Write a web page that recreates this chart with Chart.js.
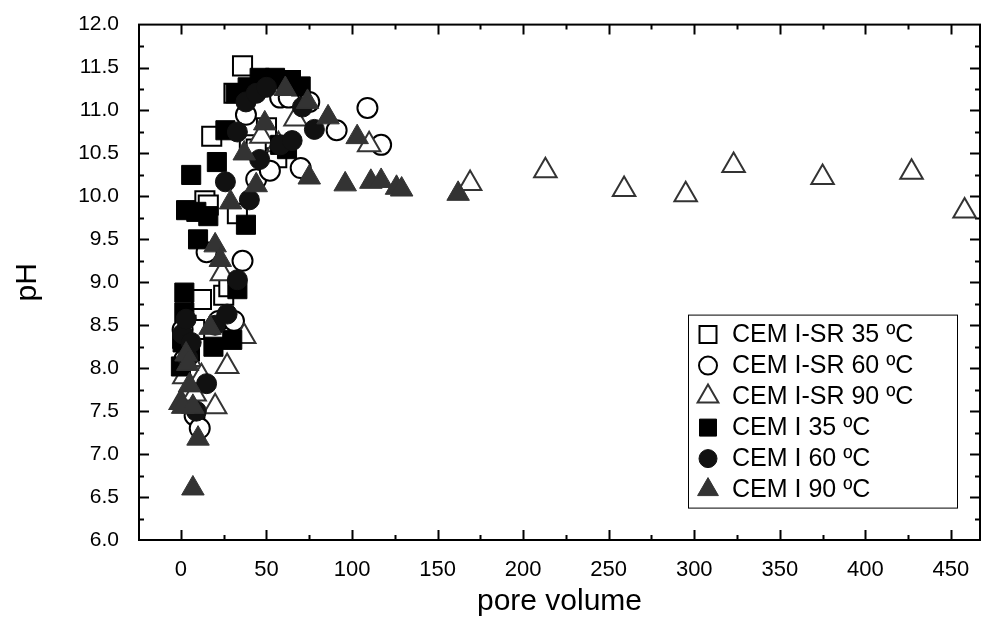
<!DOCTYPE html>
<html><head><meta charset="utf-8">
<script src="https://cdn.jsdelivr.net/npm/chart.js@4/dist/chart.umd.min.js"></script>
<style>html,body{margin:0;padding:0;background:#fff;}#wrap{width:997px;height:621px;}</style>
</head><body><div id="wrap"><canvas id="c" width="997" height="621"></canvas></div>
<script>
// ---- data ----
const seriesNames = ['CEM I-SR 35 ºC','CEM I-SR 60 ºC','CEM I-SR 90 ºC','CEM I 35 ºC','CEM I 60 ºC','CEM I 90 ºC'];
const xTickLabels = [0,50,100,150,200,250,300,350,400,450];
const yTickLabels = [6.0,6.5,7.0,7.5,8.0,8.5,9.0,9.5,10.0,10.5,11.0,11.5,12.0];

const isr35X = [1,3,5,8,12,14,16,18,25,28,31,33,36,40,44,50,56,60,64];
const isr35Y = [8.35,8.5,8.2,8.45,8.8,9.95,9.9,10.7,8.85,8.95,11.2,9.8,11.52,10.6,10.55,10.8,10.45,11.3,11.35];

const isr60X = [1,2,4,8,11,15,22,27,31,36,38,44,50,52,58,63,70,75,91,109,117];
const isr60Y = [8.45,8.1,8.3,7.45,7.3,9.35,8.55,8.6,8.55,9.25,10.95,10.2,11.3,10.3,11.15,11.15,10.33,11.1,10.77,11.03,10.6];

const isr90X = [0,2,5,8,12,20,24,27,37,47,57,67,110,169,213,259,295,323,375,427,458];
const isr90Y = [7.6,7.9,8.1,7.7,7.9,7.55,9.1,8.02,8.37,10.7,10.6,10.9,10.6,10.15,10.3,10.08,10.02,10.36,10.22,10.28,9.83];

const i35X = [0,1,2,2,3,5,6,9,10,16,19,21,26,30,32,33,38,39,46,55,58,62,64,70];
const i35Y = [8.02,8.3,8.65,8.88,9.84,8.2,10.25,9.82,9.5,9.77,8.25,10.4,10.77,8.33,11.2,8.92,9.67,11.27,11.38,11.38,10.6,10.55,11.35,11.28];

const i60X = [1,3,4,6,9,15,20,26,27,33,33,38,40,44,46,50,58,65,71,78];
const i60Y = [8.4,8.57,8.12,8.3,7.5,7.82,8.5,10.17,8.63,9.03,10.75,11.1,9.96,11.2,10.43,11.27,10.6,10.65,11.04,10.78];

const i90X = [0,1,3,4,5,7,7,10,17,20,23,29,37,44,49,61,74,75,86,96,103,111,117,126,129,162];
const i90Y = [7.6,7.55,8.16,8.05,7.8,7.55,6.6,7.18,8.47,9.43,9.26,9.93,10.5,10.13,10.85,11.25,11.1,10.22,10.92,10.14,10.69,10.17,10.18,10.1,10.08,10.03];

// ---- build ----
const pts = (xs, ys) => xs.map((x, i) => ({x, y: ys[i]}));
const styles = [
  {pointStyle:'rect', r:13.5, bg:'#ffffff', bd:'#000000', bw:2},
  {pointStyle:'circle', r:10, bg:'#ffffff', bd:'#000000', bw:2},
  {pointStyle:'triangle', r:13, bg:'#ffffff', bd:'#333333', bw:2},
  {pointStyle:'rect', r:13.5, bg:'#000000', bd:'#000000', bw:1},
  {pointStyle:'circle', r:10, bg:'#111111', bd:'#111111', bw:1},
  {pointStyle:'triangle', r:13, bg:'#333333', bd:'#333333', bw:1}
];
const allData = [pts(isr35X,isr35Y), pts(isr60X,isr60Y), pts(isr90X,isr90Y), pts(i35X,i35Y), pts(i60X,i60Y), pts(i90X,i90Y)];
const datasets = allData.map((d, i) => ({
  label: seriesNames[i], data: d,
  pointStyle: styles[i].pointStyle, pointRadius: styles[i].r, pointHoverRadius: styles[i].r,
  backgroundColor: styles[i].bg, borderColor: styles[i].bd, borderWidth: styles[i].bw,
  order: 5 - i, clip: false
}));

const FONT = "'Liberation Sans', Arial, sans-serif";

const frameTicks = {
  id: 'frameTicks',
  beforeDatasetsDraw(chart) {
    const {ctx, chartArea: a, scales: {x, y}} = chart;
    ctx.save();
    ctx.strokeStyle = '#000';
    ctx.lineWidth = 2;
    ctx.strokeRect(a.left, a.top, a.right - a.left, a.bottom - a.top);
    ctx.beginPath();
    const xt = [];
    xTickLabels.forEach(v => { xt.push([v, 10]); xt.push([v - 25, 5]); xt.push([v + 25, 5]); });
    xt.forEach(([v, len]) => {
      if (v <= x.min || v >= x.max) return;
      const px = Math.round(x.getPixelForValue(v)) + 0.5;
      ctx.moveTo(px, a.bottom); ctx.lineTo(px, a.bottom - len);
      ctx.moveTo(px, a.top); ctx.lineTo(px, a.top + len);
    });
    const yt = [];
    yTickLabels.forEach(v => { yt.push([v, 10]); yt.push([v + 0.25, 5]); });
    yt.forEach(([v, len]) => {
      if (v <= y.min || v >= y.max) return;
      const py = Math.round(y.getPixelForValue(v)) + 0.5;
      ctx.moveTo(a.left, py); ctx.lineTo(a.left + len, py);
      ctx.moveTo(a.right, py); ctx.lineTo(a.right - len, py);
    });
    ctx.stroke();
    ctx.restore();
  }
};

const boxLegend = {
  id: 'boxLegend',
  afterDraw(chart) {
    const {ctx, chartArea: a} = chart;
    const left = a.right - 292, top = a.top + 290, w = 269, h = 193;
    ctx.save();
    ctx.fillStyle = '#fff';
    ctx.fillRect(left, top, w, h);
    ctx.strokeStyle = '#000'; ctx.lineWidth = 1;
    ctx.strokeRect(left + 0.5, top + 0.5, w, h);
    chart.data.datasets.forEach((ds, i) => {
      const cy = top + 20 + i * 31;
      const s = styles[i];
      ctx.fillStyle = s.bg; ctx.strokeStyle = s.bd; ctx.lineWidth = s.bw;
      Chart.helpers.drawPoint(ctx, {pointStyle: s.pointStyle, radius: s.pointStyle === 'circle' ? 9 : 12, rotation: 0, borderWidth: s.bw}, left + 20, cy);
      ctx.fillStyle = '#000';
      ctx.font = "25px " + FONT;
      ctx.textBaseline = 'middle';
      ctx.textAlign = 'left';
      ctx.fillText(ds.label, left + 44, cy + 1);
    });
    ctx.restore();
  }
};

new Chart(document.getElementById('c'), {
  type: 'scatter',
  data: {datasets},
  options: {
    responsive: false, animation: false, devicePixelRatio: 1,
    layout: {padding: {top: 22, right: 17, left: 0, bottom: 0}},
    plugins: {legend: {display: false}, tooltip: {enabled: false}},
    scales: {
      x: {
        type: 'linear', min: -24.5, max: 467,
        grid: {display: false}, border: {display: false},
        afterBuildTicks: s => { s.ticks = xTickLabels.map(v => ({value: v})); },
        afterFit: s => { s.height = 81; },
        ticks: {color: '#000', font: {family: FONT, size: 22}, padding: 9, maxRotation: 0, autoSkip: false},
        title: {display: true, text: 'pore volume', color: '#000', font: {family: FONT, size: 30}, padding: {bottom: 1}}
      },
      y: {
        type: 'linear', min: 6, max: 12,
        grid: {display: false}, border: {display: false},
        afterBuildTicks: s => { s.ticks = yTickLabels.map(v => ({value: v})); },
        afterFit: s => { s.width = 139; },
        ticks: {color: '#000', font: {family: FONT, size: 21}, padding: 12, autoSkip: false,
          callback: v => Number(v).toFixed(1)},
        title: {display: true, text: 'pH', color: '#000', font: {family: FONT, size: 30}, padding: {top: 10}}
      }
    }
  },
  plugins: [frameTicks, boxLegend]
});
</script>
</body></html>
